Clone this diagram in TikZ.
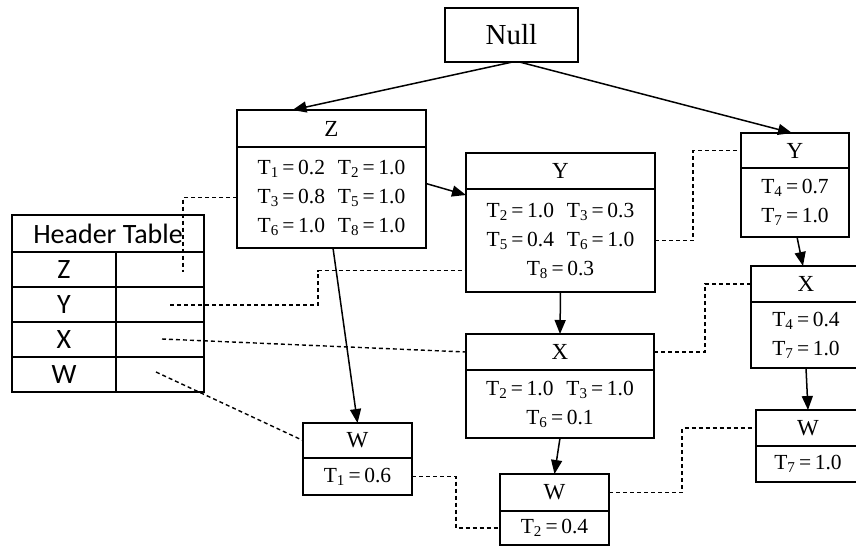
\documentclass[tikz,border=0pt]{standalone}
\usepackage{fontspec}
\setmainfont{Liberation Serif}
\newfontfamily\tablefont{Carlito}
\usetikzlibrary{arrows.meta,positioning}

\newcommand{\tv}[2]{T\textsubscript{#1}\,=\,#2}

\begin{document}
\begin{tikzpicture}[x=1pt,y=-1pt,>={Triangle[length=14pt,width=11pt]},
  title node/.style={draw,line width=2.8pt,inner sep=0pt,outer sep=0pt,font=\fontsize{23}{27}\selectfont},
  item node/.style={draw,line width=2.8pt,inner sep=0pt,outer sep=0pt,align=center,font=\fontsize{21.5}{29}\selectfont},
  cell node/.style={draw,line width=1.8pt,inner sep=0pt,outer sep=0pt,minimum height=35pt,font=\tablefont\fontsize{28}{32}\selectfont},
  link/.style={line width=1.4pt,dash pattern=on 4pt off 3pt},
  tree edge/.style={->,line width=1.5pt}]
  \useasboundingbox (0,0) rectangle (856,547);
  \clip (0,0) rectangle (856,547);

  % tree
  \node[title node,minimum width=133pt,minimum height=54pt,font=\fontsize{29}{32}\selectfont] (null) at (511.5,35) {Null};

  \node[title node,minimum width=189pt,minimum height=37pt] (zh) at (331.5,128.5) {Z};
  \node[item node,minimum width=189pt,minimum height=101pt,below=0pt of zh] (zb)
    {\tv{1}{0.2}\hspace{0.6em}\tv{2}{1.0}\\ \tv{3}{0.8}\hspace{0.6em}\tv{5}{1.0}\\ \tv{6}{1.0}\hspace{0.6em}\tv{8}{1.0}};

  \node[title node,minimum width=189pt,minimum height=36pt] (yh) at (560.5,171) {Y};
  \node[item node,minimum width=189pt,minimum height=103pt,below=0pt of yh] (yb)
    {\tv{2}{1.0}\hspace{0.6em}\tv{3}{0.3}\\ \tv{5}{0.4}\hspace{0.6em}\tv{6}{1.0}\\ \tv{8}{0.3}};

  \node[title node,minimum width=188pt,minimum height=36pt] (xh) at (560,352) {X};
  \node[item node,minimum width=188pt,minimum height=68pt,below=0pt of xh] (xb)
    {\tv{2}{1.0}\hspace{0.6em}\tv{3}{1.0}\\ \tv{6}{0.1}};

  \node[title node,minimum width=109pt,minimum height=35pt] (wlh) at (357.5,440.5) {W};
  \node[item node,minimum width=109pt,minimum height=37pt,below=0pt of wlh] (wlb) {\tv{1}{0.6}};

  \node[title node,minimum width=109pt,minimum height=37pt] (wmh) at (554.5,492.5) {W};
  \node[item node,minimum width=109pt,minimum height=34pt,below=0pt of wmh] (wmb) {\tv{2}{0.4}};

  \node[title node,minimum width=108pt,minimum height=35pt] (yrh) at (795,150.5) {Y};
  \node[item node,minimum width=108pt,minimum height=69pt,below=0pt of yrh] (yrb)
    {\tv{4}{0.7}\\ \tv{7}{1.0}};

  \node[title node,minimum width=110pt,minimum height=36pt] (xrh) at (806,284) {X};
  \node[item node,minimum width=110pt,minimum height=66pt,below=0pt of xrh] (xrb)
    {\tv{4}{0.4}\\ \tv{7}{1.0}};

  \node[title node,minimum width=104pt,minimum height=36pt] (wrh) at (808,428) {W};
  \node[item node,minimum width=104pt,minimum height=36pt,below=0pt of wrh] (wrb) {\tv{7}{1.0}};

  % header table
  \node[cell node,minimum width=192pt,minimum height=37pt] (htitle) at (108,233.5) {Header Table};
  \node[cell node,minimum width=104pt,below right=0pt and 0pt of htitle.south west] (hz) {Z};
  \node[cell node,minimum width=104pt,below=0pt of hz] (hy) {Y};
  \node[cell node,minimum width=104pt,below=0pt of hy] (hx) {X};
  \node[cell node,minimum width=104pt,below=0pt of hx] (hw) {W};
  \node[cell node,minimum width=88pt,right=0pt of hz] (hzp) {};
  \node[cell node,minimum width=88pt,right=0pt of hy] (hyp) {};
  \node[cell node,minimum width=88pt,right=0pt of hx] (hxp) {};
  \node[cell node,minimum width=88pt,right=0pt of hw] (hwp) {};

  \coordinate (zlink) at (183,272);
  \coordinate (ylink) at (170,305);
  \coordinate (xlink) at (162,339);
  \coordinate (wlink) at (156,372);

  % node links
  \draw[link] (zb.west) -| (zlink);
  \draw[link] (ylink) -- ++(148,0) |- ([yshift=-30pt]yb.west);
  \draw[link] (xlink) -- (xh.west);
  \draw[link] (wlink) -- (wlh.west);
  \draw[link] (yb.east) -- ++(38,0) |- (yrh.west);
  \draw[link] (xh.east) -- ++(51,0) |- (xrh.west);
  \draw[link] (wlb.east) -- ++(44,0) |- (wmb.west);
  \draw[link] (wmh.east) -- ++(73,0) |- (wrh.west);

  % edges
  \draw[tree edge] ([xshift=1pt]null.south) -- ([xshift=-39pt]zh.north);
  \draw[tree edge] ([xshift=8pt]null.south) -- ([xshift=-3pt]yrh.north);
  \draw[tree edge] ([yshift=14pt]zb.east) -- ([yshift=-6pt]yb.north west);
  \draw[tree edge] ([xshift=1.5pt]zb.south) -- (wlh.north);
  \draw[tree edge] (yb.south) -- (xh.north);
  \draw[tree edge] (xb.south) -- (wmh.north);
  \draw[tree edge] ([xshift=2pt]yrb.south) -- ([xshift=-3pt]xrh.north);
  \draw[tree edge] (xrb.south) -- (wrh.north);
\end{tikzpicture}
\end{document}
